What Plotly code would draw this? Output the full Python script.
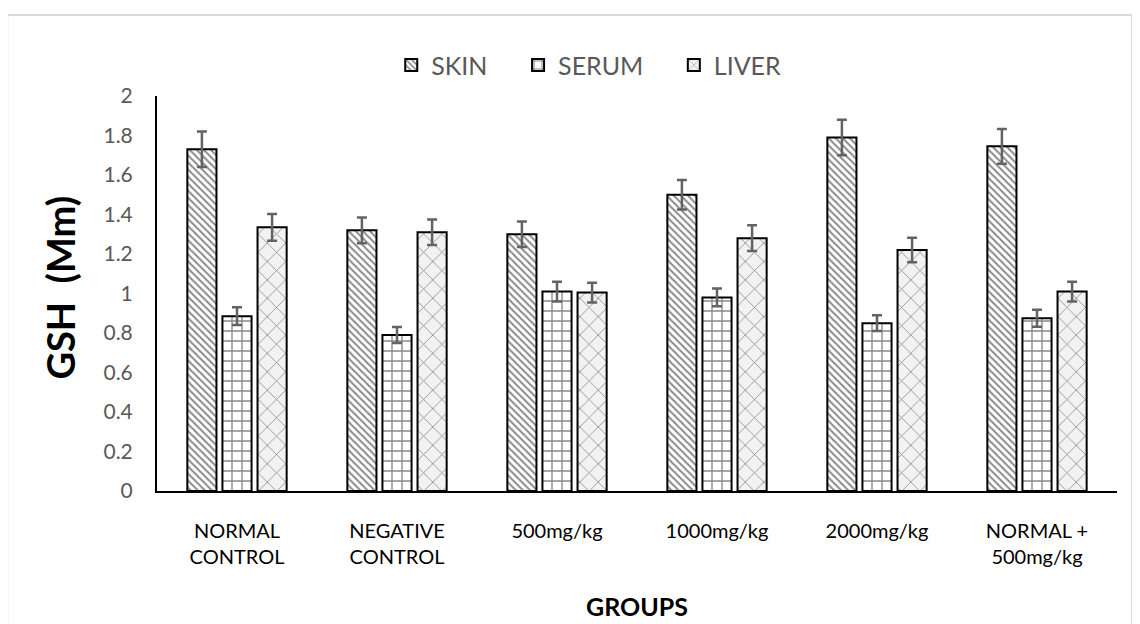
import plotly.graph_objects as go

groups = ["NORMAL<br>CONTROL", "NEGATIVE<br>CONTROL", "500mg/kg", "1000mg/kg", "2000mg/kg", "NORMAL +<br>500mg/kg"]
series_names = ["SKIN", "SERUM", "LIVER"]
skin = [1.73, 1.32, 1.30, 1.50, 1.79, 1.745]
skin_err = [0.09, 0.065, 0.065, 0.075, 0.09, 0.088]
serum = [0.885, 0.79, 1.01, 0.98, 0.85, 0.875]
serum_err = [0.045, 0.04, 0.05, 0.045, 0.04, 0.043]
liver = [1.335, 1.31, 1.005, 1.28, 1.22, 1.01]
liver_err = [0.068, 0.065, 0.05, 0.065, 0.062, 0.05]

FONT = "Lato"
err_style = dict(type="data", thickness=2.5, width=5, color="#636363")
PAD = "\u00a0" * 4

fig = go.Figure()
patterns = [
    dict(shape="\\", fgcolor="#111111", bgcolor="white", size=5, solidity=0.4),
    dict(shape="+", fgcolor="#111111", bgcolor="white", size=10, solidity=0.25),
    dict(shape="x", fgcolor="#222222", bgcolor="#f2f2f2", size=13, solidity=0.12),
]
for name, vals, errs, pat in zip(series_names, [skin, serum, liver], [skin_err, serum_err, liver_err], patterns):
    fig.add_trace(go.Bar(
        name=name + PAD, x=groups, y=vals,
        error_y=dict(array=errs, **err_style),
        marker=dict(color="white", pattern=pat, line=dict(color="black", width=2)),
    ))

fig.update_layout(
    width=1132, height=616,
    paper_bgcolor="white", plot_bgcolor="white",
    margin=dict(l=149, r=23, t=88, b=133, autoexpand=False),
    barmode="group", bargap=0.342, bargroupgap=0.17,
    font=dict(family=FONT, color="#595959"),
    legend=dict(orientation="h", x=0.244, xanchor="left", y=1.078, yanchor="middle",
                font=dict(size=25, color="#595959", family=FONT), itemwidth=30,
                tracegroupgap=0),
    showlegend=True,
    shapes=[dict(type="rect", xref="paper", yref="paper", x0=-0.156, x1=1.0156, y0=-0.5, y1=1.205,
                 line=dict(color="#d9d9d9", width=2), fillcolor="rgba(0,0,0,0)", layer="below")],
    annotations=[dict(text="<b>GSH\u00a0\u00a0(Mm)</b>", xref="paper", yref="paper", x=-0.101, y=0.515,
                      textangle=-90, xanchor="center", yanchor="middle", showarrow=False,
                      font=dict(size=38, color="black", family=FONT))],
)
fig.update_yaxes(range=[0, 2], dtick=0.2, tickformat="~g", showline=True, linecolor="black", linewidth=2,
                 showgrid=False, zeroline=False, ticks="", tickfont=dict(size=21, color="#595959"),
                 ticklabelstandoff=18, automargin=False)
fig.update_xaxes(showline=True, linecolor="black", linewidth=2, showgrid=False, ticks="",
                 tickfont=dict(size=20, color="black"), ticklabelstandoff=21, automargin=False,
                 title=dict(text="<b>GROUPS</b>", font=dict(size=25, color="black"), standoff=31))

fig.write_html("out.html")
